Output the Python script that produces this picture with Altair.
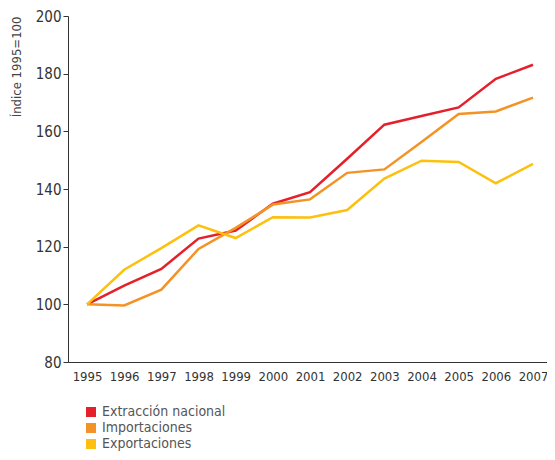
import altair as alt
import pandas as pd

years = [str(y) for y in range(1995, 2008)]
extraccion = [100, 106.5, 112.3, 122.8, 125.6, 134.9, 138.9, 150.5, 162.3, 165.3, 168.3, 178.2, 183.1]
importaciones = [100, 99.6, 105.1, 119.2, 126.5, 134.6, 136.4, 145.6, 146.8, 156.3, 166.0, 166.9, 171.7]
exportaciones = [100, 112.0, 119.5, 127.4, 123.0, 130.2, 130.1, 132.7, 143.6, 149.8, 149.4, 142.0, 148.7]

series = ["Extracción nacional", "Importaciones", "Exportaciones"]
colors = ["#E5202A", "#F39325", "#FDC00F"]

rows = []
for name, vals in zip(series, [extraccion, importaciones, exportaciones]):
    for y, v in zip(years, vals):
        rows.append({"year": y, "value": v, "serie": name})
df = pd.DataFrame(rows)

font = "DejaVu Sans Condensed"

x_enc = alt.X("year:O", scale=alt.Scale(type="point", padding=0.444, align=0.576),
              axis=alt.Axis(title=None, labelAngle=0, ticks=False, domainColor="#333",
                            labelFontSize=13, labelColor="#333", labelFont=font,
                            labelPadding=8, grid=False))
y_enc = alt.Y("value:Q", scale=alt.Scale(domain=[80, 200], nice=False, zero=False),
              axis=alt.Axis(title="Índice 1995=100", values=[80, 100, 120, 140, 160, 180, 200],
                            titleFontSize=13, titleFontWeight="normal", titleColor="#444", titleFont=font,
                            titleAnchor="end", titleAlign="right", titlePadding=12,
                            labelFontSize=15, labelColor="#333", labelFont=font,
                            tickSize=5, tickColor="#333", domainColor="#333", grid=False))
color_enc = alt.Color("serie:N", scale=alt.Scale(domain=series, range=colors),
                      sort=series,
                      legend=alt.Legend(title=None, orient="none", legendX=16, legendY=389,
                                        symbolType="square", symbolSize=100, symbolStrokeWidth=0,
                                        labelFontSize=14, labelColor="#555",
                                        labelFont=font, rowPadding=2, padding=0, labelOffset=4))

base = alt.Chart(df)
squares = base.mark_square(size=0, filled=True, opacity=1).encode(x=x_enc, y=y_enc, color=color_enc)
lines = base.mark_line(strokeWidth=2.5).encode(x=x_enc, y=y_enc, color=color_enc)

chart = alt.layer(squares, lines).properties(
    width=479, height=346,
    autosize=alt.AutoSizeParams(type="none"),
    padding={"left": 60, "top": 8, "right": 0, "bottom": 90},
).configure_view(stroke=None)

chart.save("out.html", embed_options={"renderer": "svg", "actions": False})
